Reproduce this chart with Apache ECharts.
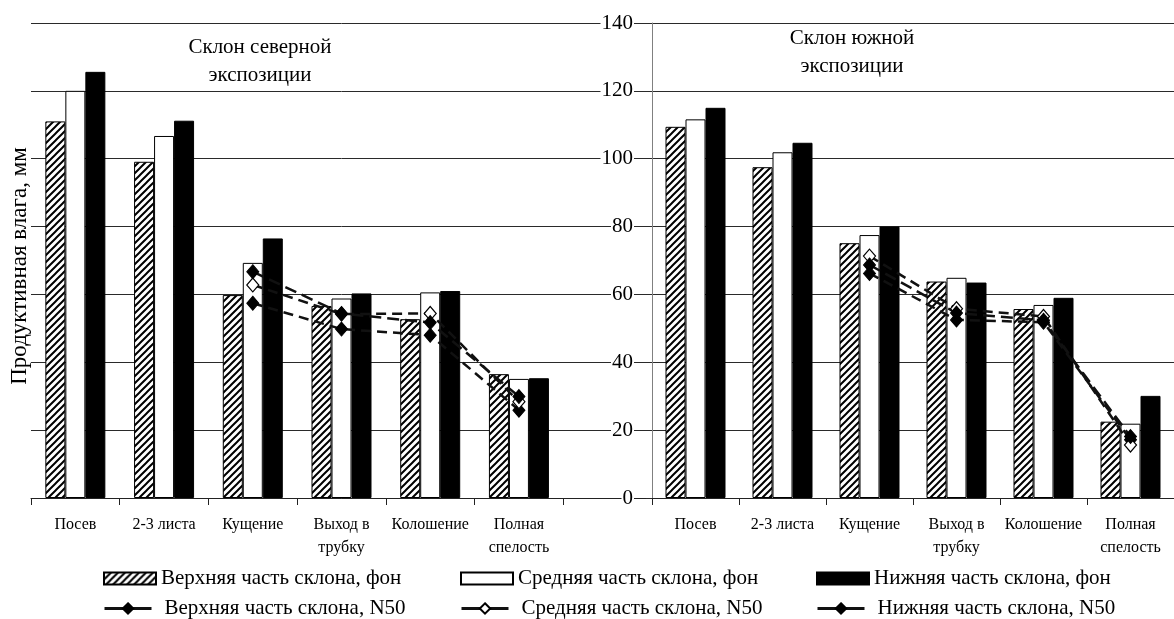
<!DOCTYPE html>
<html>
<head>
<meta charset="utf-8">
<script src="https://cdn.jsdelivr.net/npm/echarts@6/dist/echarts.min.js"></script>
<style>
  html, body { margin: 0; padding: 0; background: #fff; }
  #chart { width: 1174px; height: 619px; }
</style>
</head>
<body>
<div id="chart"></div>
<script>
// Growth stages (shared by both slope panels)
const stages = ['Посев', '2-3 листа', 'Кущение', 'Выход в\nтрубку', 'Колошение', 'Полная\nспелость'];
const yTicks = { min: 0, max: 140, step: 20 };

// Series names
const names = {
  upperBg: 'Верхняя часть склона, фон',
  middleBg: 'Средняя часть склона, фон',
  lowerBg: 'Нижняя часть склона, фон',
  upperN: 'Верхняя часть склона, N50',
  middleN: 'Средняя часть склона, N50',
  lowerN: 'Нижняя часть склона, N50'
};

// North-facing slope, productive moisture (mm)
const northUpperBg  = [111.0, 99.1, 59.8, 56.6, 52.7, 36.5];
const northMiddleBg = [120.0, 106.7, 69.3, 58.8, 60.6, 35.1];
const northLowerBg  = [125.6, 111.2, 76.5, 60.3, 61.0, 35.3];
const northUpperN   = ['-', '-', 57.4, 49.8, 48.0, 25.9];
const northMiddleN  = ['-', '-', 62.8, 54.2, 54.4, 28.4];
const northLowerN   = ['-', '-', 66.7, 54.4, 51.7, 29.9];

// South-facing slope, productive moisture (mm)
const southUpperBg  = [109.4, 97.5, 75.1, 63.8, 55.7, 22.5];
const southMiddleBg = [111.6, 101.9, 77.5, 64.9, 56.9, 21.9];
const southLowerBg  = [115.0, 104.7, 80.0, 63.5, 59.0, 30.1];
const southUpperN   = ['-', '-', 66.2, 52.5, 51.8, 17.2];
const southMiddleN  = ['-', '-', 71.3, 55.8, 53.5, 15.6];
const southLowerN   = ['-', '-', 68.7, 54.5, 52.4, 18.1];

const FONT = '"Liberation Serif", "Times New Roman", serif';

// Diagonal hatch fill for the upper-slope bars
function makeHatch() {
  const s = 7;
  const c = document.createElement('canvas');
  c.width = s; c.height = s;
  const g = c.getContext('2d');
  g.fillStyle = '#fff';
  g.fillRect(0, 0, s, s);
  g.strokeStyle = '#000';
  g.lineWidth = 2;
  g.beginPath();
  g.moveTo(-1, s + 1); g.lineTo(s + 1, -1);
  g.moveTo(-1, 1); g.lineTo(1, -1);
  g.moveTo(s - 1, s + 1); g.lineTo(s + 1, s - 1);
  g.stroke();
  return c;
}
const hatch = { image: makeHatch(), repeat: 'repeat' };

const barStyles = {
  upper: { color: hatch, borderColor: '#000', borderWidth: 1 },
  middle: { color: '#fff', borderColor: '#000', borderWidth: 1 },
  lower: { color: '#000', borderColor: '#000', borderWidth: 1 }
};

function bar(name, data, idx, style) {
  return {
    type: 'bar', name, data,
    xAxisIndex: idx, yAxisIndex: idx,
    barWidth: 20, barGap: '0%',
    itemStyle: style,
    z: 2
  };
}

function line(name, data, idx, filled, dash) {
  return {
    type: 'line', name, data,
    xAxisIndex: idx, yAxisIndex: idx,
    symbol: 'diamond', symbolSize: [12, 14],
    showSymbol: true,
    lineStyle: { color: '#111', width: 2.5, type: dash },
    itemStyle: filled
      ? { color: '#000', borderColor: '#000', borderWidth: 1 }
      : { color: '#fff', borderColor: '#000', borderWidth: 1.2 },
    z: 5
  };
}

const labelText = { fontFamily: FONT, color: '#000' };

function xAxis(idx, cats) {
  return {
    type: 'category', gridIndex: idx, data: cats,
    axisLine: { show: true, lineStyle: { color: '#222', width: 1 } },
    axisTick: { show: true, length: 7, interval: 0, lineStyle: { color: '#222' } },
    axisLabel: Object.assign({ interval: 0, fontSize: 16, margin: 15, lineHeight: 23 }, labelText),
    splitLine: { show: false }
  };
}

const chart = echarts.init(document.getElementById('chart'), null, { renderer: 'canvas' });

// One legend box per entry so the entries line up in three columns
function barLegend(left, top, name) {
  return {
    left, top, padding: 0, orient: 'horizontal',
    itemWidth: 52, itemHeight: 12, icon: 'rect',
    selectedMode: false,
    textStyle: { fontSize: 21, fontFamily: FONT, color: '#000' },
    data: [name]
  };
}
function lineLegend(left, top, name) {
  return {
    left, top, padding: 0, orient: 'horizontal',
    itemWidth: 47, itemHeight: 13,
    selectedMode: false,
    lineStyle: { type: 'solid', width: 3, color: '#111' },
    textStyle: { fontSize: 21, fontFamily: FONT, color: '#000', padding: [0, 0, 0, 8] },
    data: [name]
  };
}

chart.setOption({
  animation: false,
  backgroundColor: '#fff',
  textStyle: { fontFamily: FONT },
  grid: [
    { left: 31, top: 23, width: 621, height: 475 },
    { left: 652, top: 23, width: 533, height: 475 }
  ],
  xAxis: [xAxis(0, stages.concat([''])), xAxis(1, stages)],
  yAxis: [
    {
      type: 'value', gridIndex: 0, min: yTicks.min, max: yTicks.max, interval: yTicks.step,
      axisLine: { show: false }, axisTick: { show: false }, axisLabel: { show: false },
      splitLine: { show: true, lineStyle: { color: '#2a2a2a', width: 1 } }
    },
    {
      type: 'value', gridIndex: 1, min: yTicks.min, max: yTicks.max, interval: yTicks.step,
      axisLine: { show: true, lineStyle: { color: '#808080', width: 1 } },
      axisTick: { show: true, length: 6, lineStyle: { color: '#2a2a2a' } },
      axisLabel: Object.assign({ fontSize: 21, margin: 18, backgroundColor: '#fff', padding: [0, 1] }, labelText),
      splitLine: { show: true, lineStyle: { color: '#2a2a2a', width: 1 } }
    }
  ],
  legend: [
    barLegend(103, 568, names.upperBg),
    barLegend(460, 568, names.middleBg),
    barLegend(816, 568, names.lowerBg),
    lineLegend(103, 598, names.upperN),
    lineLegend(460, 598, names.middleN),
    lineLegend(816, 598, names.lowerN)
  ],
  graphic: [
    {
      type: 'text', x: 260, y: 61,
      style: { text: 'Склон северной\nэкспозиции', fontSize: 21, align: 'center', verticalAlign: 'middle', lineHeight: 28, fill: '#000', fontFamily: FONT }
    },
    {
      type: 'text', x: 852, y: 52,
      style: { text: 'Склон южной\nэкспозиции', fontSize: 21, align: 'center', verticalAlign: 'middle', lineHeight: 28, fill: '#000', fontFamily: FONT }
    },
    {
      type: 'text', x: 20, y: 266, rotation: Math.PI / 2,
      style: { text: 'Продуктивная влага, мм', fontSize: 23, align: 'center', verticalAlign: 'middle', fill: '#000', fontFamily: FONT }
    }
  ],
  series: [
    bar(names.upperBg, northUpperBg, 0, barStyles.upper),
    bar(names.middleBg, northMiddleBg, 0, barStyles.middle),
    bar(names.lowerBg, northLowerBg, 0, barStyles.lower),
    line(names.upperN, northUpperN, 0, true, [10, 6]),
    line(names.middleN, northMiddleN, 0, false, [10, 6]),
    line(names.lowerN, northLowerN, 0, true, [12, 6]),

    bar(names.upperBg, southUpperBg, 1, barStyles.upper),
    bar(names.middleBg, southMiddleBg, 1, barStyles.middle),
    bar(names.lowerBg, southLowerBg, 1, barStyles.lower),
    line(names.upperN, southUpperN, 1, true, [10, 6]),
    line(names.middleN, southMiddleN, 1, false, [10, 6]),
    line(names.lowerN, southLowerN, 1, true, [12, 6])
  ]
});
</script>
</body>
</html>
